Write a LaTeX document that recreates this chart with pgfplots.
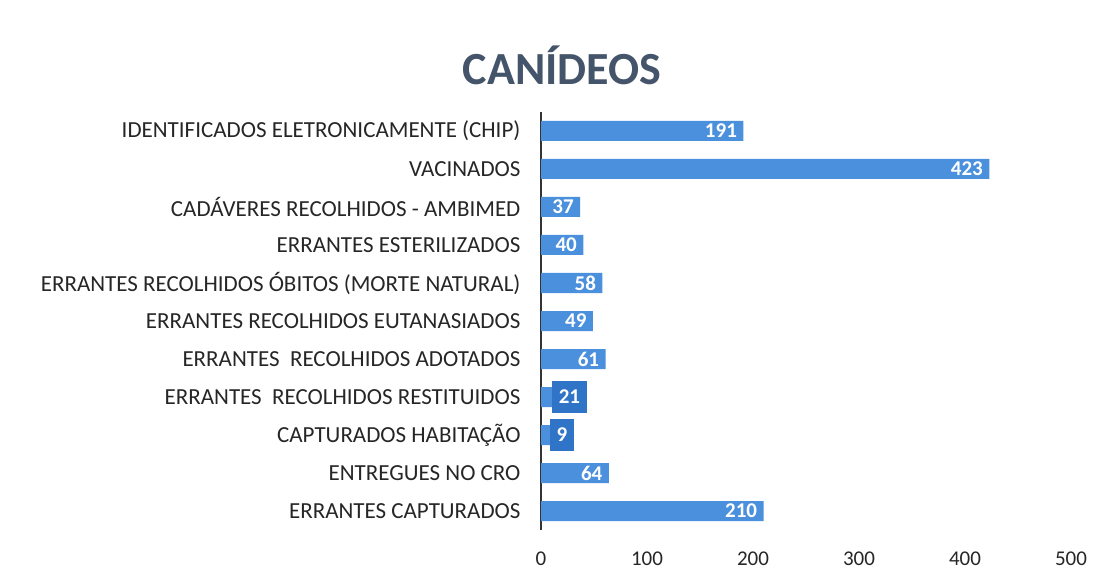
\documentclass[border=0pt]{standalone}
\usepackage{pgfplots}
\pgfplotsset{compat=1.18}
\usepackage{fontspec}
\setmainfont{Carlito}
\definecolor{barblue}{HTML}{4A90DC}
\definecolor{darkbar}{HTML}{2F74C6}
\definecolor{titlecol}{HTML}{44546A}

\begin{document}
\begin{tikzpicture}
\path[use as bounding box] (0pt,0pt) rectangle (1105pt,584pt);
\node[font=\fontsize{46}{50}\selectfont\bfseries, text=titlecol] at (562pt,519pt) {CANÍDEOS};
\begin{axis}[
  at={(541pt,54pt)}, anchor=south west,
  scale only axis, width=530pt, height=418pt,
  xbar, bar width=20pt, bar shift=0pt,
  xmin=0, xmax=500,
  ymin=-0.5, ymax=10.5,
  xtick={0,100,...,500},
  ytick={0,...,10},
  yticklabels={ERRANTES CAPTURADOS, ENTREGUES NO CRO, CAPTURADOS HABITAÇÃO,
    ERRANTES\ \ RECOLHIDOS RESTITUIDOS, ERRANTES\ \ RECOLHIDOS ADOTADOS\ ,
    ERRANTES RECOLHIDOS EUTANASIADOS, ERRANTES RECOLHIDOS ÓBITOS (MORTE NATURAL),
    ERRANTES ESTERILIZADOS, CADÁVERES RECOLHIDOS - AMBIMED, VACINADOS,
    IDENTIFICADOS ELETRONICAMENTE (CHIP)},
  axis lines*=left,
  x axis line style={draw=none},
  y axis line style={draw=black!80, line width=2pt},
  major tick length=0pt,
  yticklabel style={font=\fontsize{23}{26}\selectfont, text=black!85, xshift=-17pt},
  xticklabel style={font=\fontsize{21}{24}\selectfont, text=black!85, yshift=-18pt},
  /pgf/number format/assume math mode=true,
]
\addplot[fill=barblue, draw=none, nodes near coords,
  every node near coord/.append style={anchor=east, xshift=-3pt, text=white,
    font=\fontsize{21}{24}\selectfont\bfseries}]
  coordinates {(210,0) (64,1) (61,4) (49,5) (58,6) (40,7) (37,8) (423,9) (191,10)};
\addplot[fill=barblue, draw=none, nodes near coords,
  every node near coord/.append style={anchor=east, xshift=24pt, text=white, fill=darkbar,
    minimum height=32pt, inner xsep=7pt,
    font=\fontsize{21}{24}\selectfont\bfseries}]
  coordinates {(9,2) (21,3)};
\end{axis}
\end{tikzpicture}
\end{document}
